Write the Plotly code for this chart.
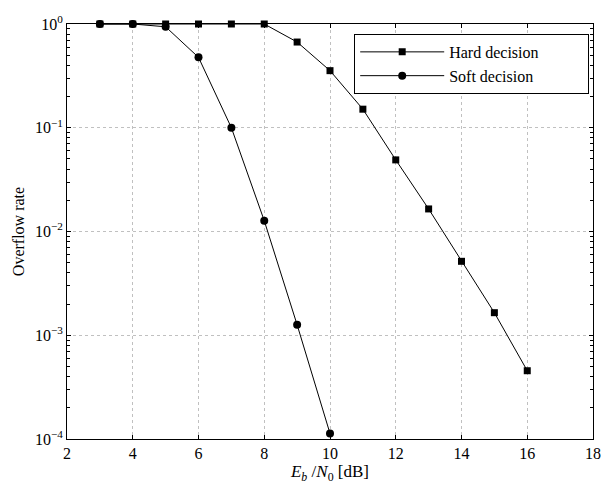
import plotly.graph_objects as go

ebn0_hard = [3, 4, 5, 6, 7, 8, 9, 10, 11, 12, 13, 14, 15, 16]
rate_hard = [1.0, 1.0, 1.0, 1.0, 1.0, 1.0, 0.67, 0.355, 0.151, 0.049, 0.0165, 0.00516, 0.00165, 0.000455]
ebn0_soft = [3, 4, 5, 6, 7, 8, 9, 10]
rate_soft = [1.0, 1.0, 0.94, 0.477, 0.1, 0.0127, 0.00126, 0.000113]

x_ticks = [2, 4, 6, 8, 10, 12, 14, 16, 18]
y_ticks = [1e-4, 1e-3, 1e-2, 1e-1, 1]
y_ticktext = ["10<sup>−4</sup>", "10<sup>−3</sup>", "10<sup>−2</sup>", "10<sup>−1</sup>", "10<sup>0</sup>"]
y_minor = [m * d for d in [1e-4, 1e-3, 1e-2, 1e-1] for m in range(2, 10)]

FONT = "Liberation Serif"
PAD = "&nbsp;" * 11

fig = go.Figure()
fig.add_trace(go.Scatter(x=ebn0_hard, y=rate_hard, mode="lines+markers", name="Hard decision" + PAD,
                         line=dict(color="black", width=1),
                         marker=dict(symbol="square", size=7, color="black"),
                         cliponaxis=False))
fig.add_trace(go.Scatter(x=ebn0_soft, y=rate_soft, mode="lines+markers", name="Soft decision" + PAD,
                         line=dict(color="black", width=1),
                         marker=dict(symbol="circle", size=8, color="black"),
                         cliponaxis=False))

fig.update_layout(
    width=602, height=488,
    margin=dict(l=67, r=9, t=24, b=49, autoexpand=False),
    paper_bgcolor="white", plot_bgcolor="white",
    font=dict(family=FONT, size=16, color="black"),
    showlegend=True,
    legend=dict(x=0.546, y=0.976, xanchor="left", yanchor="top",
                bordercolor="black", borderwidth=1, bgcolor="white",
                font=dict(family=FONT, size=16), itemwidth=84,
                tracegroupgap=0),
    xaxis=dict(range=[2, 18], tickvals=x_ticks, ticks="inside", ticklen=4,
               tickcolor="black", showline=True, linecolor="black", linewidth=1,
               mirror="ticks", showgrid=True, gridcolor="#c0c0c0", griddash="dot",
               gridwidth=1, zeroline=False, tickfont=dict(family=FONT, size=16),
               title=dict(text="<i>E</i><sub><i>b</i></sub> /<i>N</i><sub>0</sub> [dB]",
                          font=dict(family=FONT, size=17), standoff=2)),
    yaxis=dict(type="log", range=[-4, 0], tickvals=y_ticks, ticktext=y_ticktext,
               ticks="inside", ticklen=4, tickcolor="black",
               showline=True, linecolor="black", linewidth=1, mirror="ticks",
               showgrid=True, gridcolor="#c0c0c0", griddash="dot", gridwidth=1,
               zeroline=False, tickfont=dict(family=FONT, size=16),
               minor=dict(tickvals=y_minor, ticks="inside", ticklen=3,
                          tickcolor="black", showgrid=False),
               title=dict(text="Overflow rate", font=dict(family=FONT, size=16), standoff=6)),
)

fig.write_html("out.html")
